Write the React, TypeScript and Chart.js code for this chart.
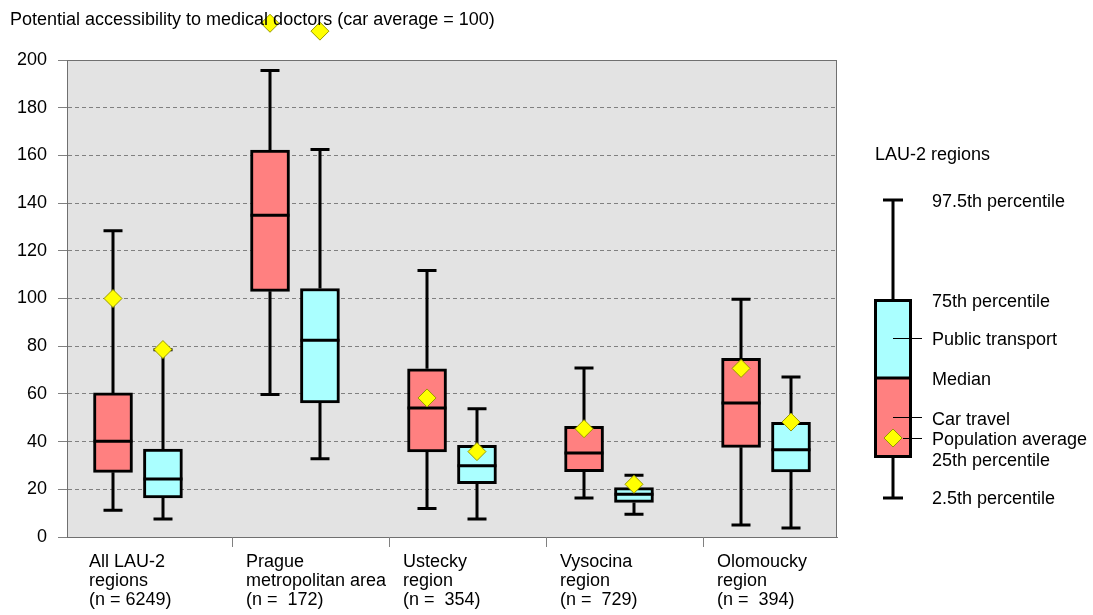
import React, { useEffect, useRef } from 'react';
import { Chart, registerables } from 'chart.js';

Chart.register(...registerables);

// ---------- data ----------
const categoryLabels: string[][] = [
  ['All LAU-2', 'regions', '(n = 6249)'],
  ['Prague', 'metropolitan area', '(n =  172)'],
  ['Ustecky', 'region', '(n =  354)'],
  ['Vysocina', 'region', '(n =  729)'],
  ['Olomoucky', 'region', '(n =  394)'],
];

// Car travel
const carP025 = [11.2, 59.7, 12.0, 16.4, 5.0];
const carQ1 = [27.1, 103.0, 35.7, 27.4, 37.6];
const carMedian = [40.1, 134.9, 54.1, 35.2, 56.2];
const carQ3 = [60.4, 162.2, 70.5, 46.4, 74.9];
const carP975 = [128.4, 195.6, 111.7, 70.9, 99.7];
const carMean = [100.0, 215.4, 58.3, 45.4, 70.7];

// Public transport
const ptP025 = [7.5, 32.8, 7.5, 9.5, 3.8];
const ptQ1 = [16.4, 56.2, 22.4, 14.5, 27.3];
const ptMedian = [24.3, 82.5, 29.9, 17.9, 36.6];
const ptQ3 = [36.9, 104.2, 38.4, 20.7, 48.1];
const ptP975 = [78.5, 162.5, 53.8, 25.9, 67.1];
const ptMean = [78.6, 212.1, 35.8, 22.1, 48.2];

const yTicks = [0, 20, 40, 60, 80, 100, 120, 140, 160, 180, 200];
const categorySeparators = [0.6, 1.6, 2.6, 3.6];

const titleText = 'Potential accessibility to medical doctors (car average = 100)';
const legendTitle = 'LAU-2 regions';

// ---------- styling ----------
const FONT = '"Liberation Sans", Arial, sans-serif';
const CAR_COLOR = '#FF8080';
const PT_COLOR = '#AAFFFF';
const PLOT_BG = '#E3E3E3';
const GRID = '#808080';
const OFFSET = 0.159; // half distance between paired boxes (category units)
const BOX_W = 39;
const CAP_W = 19;

const carX = (i: number) => i - OFFSET;
const ptX = (i: number) => i + OFFSET;

function drawDiamond(ctx: CanvasRenderingContext2D, x: number, y: number, r: number) {
  ctx.beginPath();
  ctx.moveTo(x, y - r);
  ctx.lineTo(x + r, y);
  ctx.lineTo(x, y + r);
  ctx.lineTo(x - r, y);
  ctx.closePath();
  ctx.fillStyle = '#FFFF00';
  ctx.fill();
  ctx.lineWidth = 1;
  ctx.strokeStyle = '#999900';
  ctx.stroke();
}

const boxPlugin = {
  id: 'boxExtras',
  beforeDraw(chart: any) {
    const { ctx, chartArea: a } = chart;
    ctx.save();
    ctx.fillStyle = '#FFFFFF';
    ctx.fillRect(0, 0, chart.width, chart.height);
    ctx.fillStyle = PLOT_BG;
    ctx.fillRect(a.left, a.top, a.right - a.left, a.bottom - a.top);
    ctx.restore();
  },
  beforeDatasetsDraw(chart: any) {
    const { ctx, chartArea: a } = chart;
    const xs = chart.scales.x;
    ctx.save();
    ctx.strokeStyle = '#707070';
    ctx.lineWidth = 1;
    ctx.strokeRect(a.left + 0.5, a.top + 0.5, a.right - a.left - 1, a.bottom - a.top);
    // category separator ticks below the axis
    ctx.strokeStyle = GRID;
    ctx.beginPath();
    categorySeparators.forEach((v) => {
      const x = Math.round(xs.getPixelForValue(v)) + 0.5;
      ctx.moveTo(x, a.bottom);
      ctx.lineTo(x, a.bottom + 10);
    });
    ctx.stroke();
    ctx.restore();
  },
  afterDatasetDraw(chart: any, args: any) {
    if (args.index !== 0 && args.index !== 1) return;
    const isCar = args.index === 0;
    const xs = chart.scales.x;
    const ys = chart.scales.y;
    const ctx = chart.ctx;
    const lo = isCar ? carP025 : ptP025;
    const q1 = isCar ? carQ1 : ptQ1;
    const med = isCar ? carMedian : ptMedian;
    const q3 = isCar ? carQ3 : ptQ3;
    const hi = isCar ? carP975 : ptP975;
    ctx.save();
    ctx.strokeStyle = '#000';
    ctx.lineWidth = 3;
    ctx.lineCap = 'butt';
    for (let i = 0; i < lo.length; i++) {
      const cx = Math.round(xs.getPixelForValue(isCar ? carX(i) : ptX(i)));
      const yLo = ys.getPixelForValue(lo[i]);
      const yQ1 = ys.getPixelForValue(q1[i]);
      const yMed = ys.getPixelForValue(med[i]);
      const yQ3 = ys.getPixelForValue(q3[i]);
      const yHi = ys.getPixelForValue(hi[i]);
      ctx.beginPath();
      ctx.moveTo(cx, yQ3);
      ctx.lineTo(cx, yHi);
      ctx.moveTo(cx - CAP_W / 2, yHi);
      ctx.lineTo(cx + CAP_W / 2, yHi);
      ctx.moveTo(cx, yQ1);
      ctx.lineTo(cx, yLo);
      ctx.moveTo(cx - CAP_W / 2, yLo);
      ctx.lineTo(cx + CAP_W / 2, yLo);
      ctx.moveTo(cx - BOX_W / 2, yMed);
      ctx.lineTo(cx + BOX_W / 2, yMed);
      ctx.stroke();
    }
    ctx.restore();
  },
  afterDatasetsDraw(chart: any) {
    // points above the plot area are skipped by Chart.js; draw them with the element itself
    const meta = chart.getDatasetMeta(2);
    const a = chart.chartArea;
    const ctx = chart.ctx;
    meta.data.forEach((el: any) => {
      if (el.y < a.top - 4) {
        ctx.save();
        el.draw(ctx);
        ctx.restore();
      }
    });
  },
  afterDraw(chart: any) {
    const { ctx } = chart;
    const xs = chart.scales.x;
    ctx.save();
    ctx.fillStyle = '#000';
    ctx.font = `18px ${FONT}`;
    ctx.textBaseline = 'middle';
    ctx.textAlign = 'left';
    // title
    ctx.fillText(titleText, 10, 20);
    // category labels
    categoryLabels.forEach((lines, i) => {
      const x = xs.getPixelForValue(i) - 49;
      lines.forEach((t, k) => ctx.fillText(t, x, 562 + k * 19));
    });

    // legend
    ctx.fillText(legendTitle, 875, 155);
    const lx = 893;
    const boxL = 874, boxR = 912;
    const capT = 200, top = 299, mid = 378, bot = 458, capB = 498;
    ctx.fillStyle = PT_COLOR;
    ctx.fillRect(boxL, top, boxR - boxL, mid - top);
    ctx.fillStyle = CAR_COLOR;
    ctx.fillRect(boxL, mid, boxR - boxL, bot - mid);
    ctx.strokeStyle = '#000';
    ctx.lineWidth = 3;
    ctx.strokeRect(boxL + 1.5, top + 1.5, boxR - boxL - 3, bot - top - 3);
    ctx.beginPath();
    ctx.moveTo(boxL, mid);
    ctx.lineTo(boxR, mid);
    ctx.moveTo(lx, top);
    ctx.lineTo(lx, capT);
    ctx.moveTo(lx - 10, capT);
    ctx.lineTo(lx + 10, capT);
    ctx.moveTo(lx, bot);
    ctx.lineTo(lx, capB);
    ctx.moveTo(lx - 10, capB);
    ctx.lineTo(lx + 10, capB);
    ctx.stroke();
    ctx.lineWidth = 1;
    ctx.beginPath();
    ctx.moveTo(lx, 338.5);
    ctx.lineTo(922, 338.5);
    ctx.moveTo(lx, 417.5);
    ctx.lineTo(922, 417.5);
    ctx.moveTo(lx + 10, 438.5);
    ctx.lineTo(922, 438.5);
    ctx.stroke();
    drawDiamond(ctx, lx, 438, 9);

    ctx.fillStyle = '#000';
    const tx = 932;
    ctx.fillText('97.5th percentile', tx, 202);
    ctx.fillText('75th percentile', tx, 302);
    ctx.fillText('Public transport', tx, 340);
    ctx.fillText('Median', tx, 380);
    ctx.fillText('Car travel', tx, 420);
    ctx.fillText('Population average', tx, 440);
    ctx.fillText('25th percentile', tx, 461);
    ctx.fillText('2.5th percentile', tx, 499);
    ctx.restore();
  },
};

export default function App() {
  const canvasRef = useRef<HTMLCanvasElement | null>(null);

  useEffect(() => {
    document.body.style.margin = '0';
    const canvas = canvasRef.current;
    if (!canvas) return;

    const carBoxes = carQ1.map((v, i) => ({ x: carX(i), y: [v, carQ3[i]] }));
    const ptBoxes = ptQ1.map((v, i) => ({ x: ptX(i), y: [v, ptQ3[i]] }));
    const means = [
      ...carMean.map((v, i) => ({ x: carX(i), y: v })),
      ...ptMean.map((v, i) => ({ x: ptX(i), y: v })),
    ];

    const chart = new Chart(canvas, {
      type: 'bar',
      data: {
        datasets: [
          {
            type: 'bar',
            label: 'Car travel',
            data: carBoxes as any,
            backgroundColor: CAR_COLOR,
            borderColor: '#000',
            borderWidth: 3,
            borderSkipped: false,
            barThickness: BOX_W,
            grouped: false,
          } as any,
          {
            type: 'bar',
            label: 'Public transport',
            data: ptBoxes as any,
            backgroundColor: PT_COLOR,
            borderColor: '#000',
            borderWidth: 3,
            borderSkipped: false,
            barThickness: BOX_W,
            grouped: false,
          } as any,
          {
            type: 'scatter',
            label: 'Population average',
            data: means as any,
            pointStyle: 'rectRot',
            radius: 9,
            backgroundColor: '#FFFF00',
            borderColor: '#999900',
            borderWidth: 1,
            clip: false,
            order: -1,
          } as any,
        ],
      },
      options: {
        animation: false,
        responsive: false,
        events: [],
        layout: { padding: { top: 60, right: 256, left: 0, bottom: 0 } },
        plugins: {
          legend: { display: false },
          tooltip: { enabled: false },
          title: { display: false },
        },
        scales: {
          x: {
            type: 'linear',
            min: -0.452,
            max: 4.452,
            offset: false,
            ticks: { display: false },
            grid: { display: false, offset: false },
            border: { display: true, color: GRID, width: 1 },
            afterFit: (s: any) => {
              s.height = 78;
            },
          },
          y: {
            type: 'linear',
            min: 0,
            max: 200,
            afterBuildTicks: (s: any) => {
              s.ticks = yTicks.map((v) => ({ value: v }));
            },
            ticks: {
              color: '#000',
              font: { family: FONT, size: 18 },
              padding: 11,
            },
            grid: {
              color: (c: any) =>
                c.tick && (c.tick.value === 0 || c.tick.value === 200) ? 'rgba(0,0,0,0)' : GRID,
              lineWidth: 1,
              drawTicks: true,
              tickLength: 9,
              tickColor: GRID,
              tickBorderDash: [],
            },
            border: { display: true, color: GRID, width: 1, dash: [4, 3] },
            afterFit: (s: any) => {
              s.width = 67;
            },
          },
        },
      } as any,
      plugins: [boxPlugin],
    });

    return () => chart.destroy();
  }, []);

  return (
    <div style={{ position: 'absolute', left: 0, top: 0, width: 1093, height: 615 }}>
      <canvas ref={canvasRef} width={1093} height={615} />
    </div>
  );
}
